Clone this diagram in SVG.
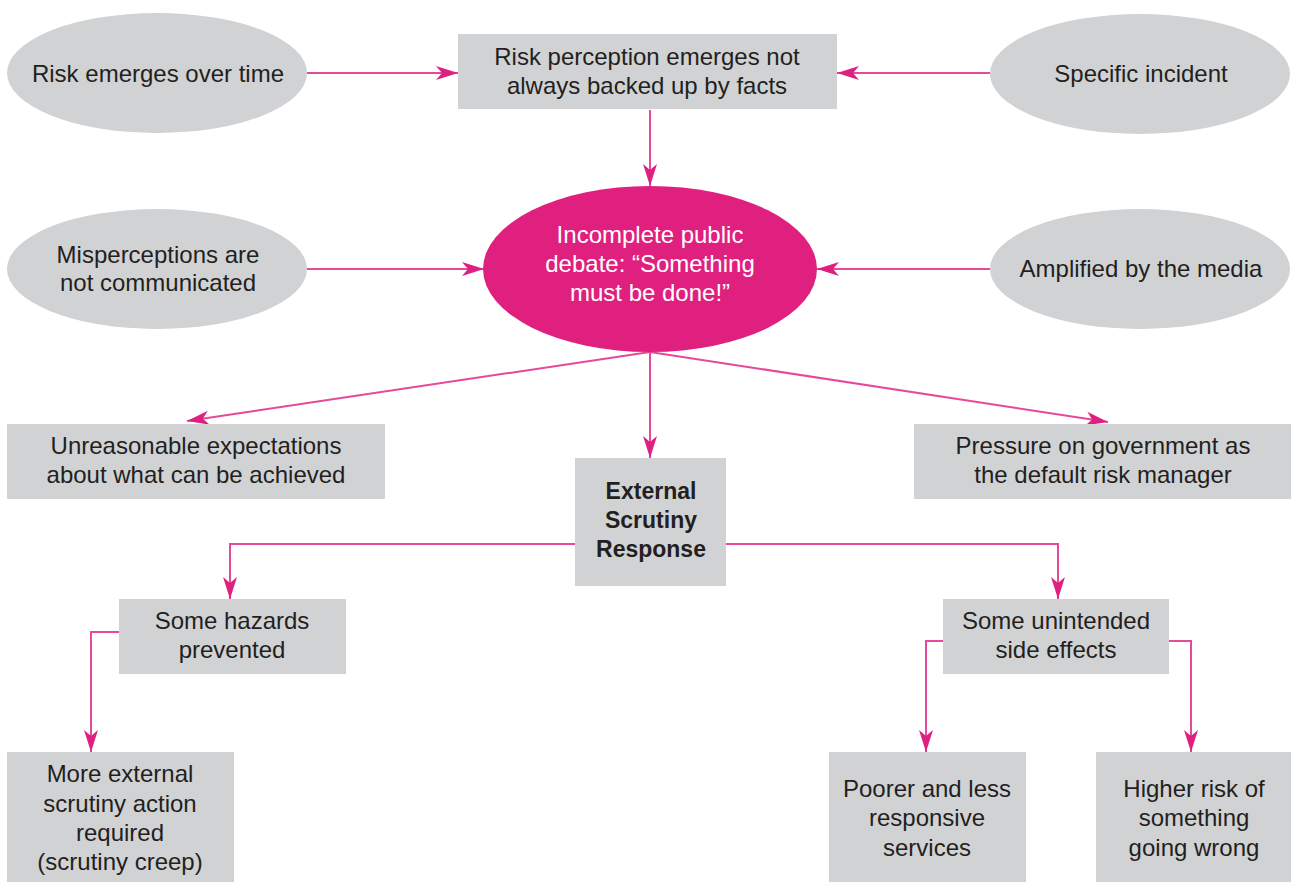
<svg xmlns="http://www.w3.org/2000/svg" width="1291" height="882" viewBox="0 0 1291 882">
<style>
.n{fill:#d1d2d4}
.hub{fill:#e0207f}
text{font-family:"Liberation Sans",Arial,sans-serif;font-size:24px;fill:#231f20;text-anchor:middle}
.w{fill:#ffffff}
.b{font-weight:bold;font-size:23px}
.c{fill:none;stroke:#e8489a;stroke-width:2}
</style>
<defs>
<marker id="ah" markerWidth="22" markerHeight="14" refX="22" refY="7" orient="auto" markerUnits="userSpaceOnUse">
<path d="M0,0 L22,7 L0,14 L6,7 Z" fill="#e0207f"/>
</marker>
</defs>
<rect width="1291" height="882" fill="#ffffff"/>
<g id="connectors">
<path class="c" d="M307,73 H458" marker-end="url(#ah)"/>
<path class="c" d="M990,73 H837" marker-end="url(#ah)"/>
<path class="c" d="M650,110 V186" marker-end="url(#ah)"/>
<path class="c" d="M307,269 H484" marker-end="url(#ah)"/>
<path class="c" d="M990,269 H817" marker-end="url(#ah)"/>
<path class="c" d="M650,352 L187,421" marker-end="url(#ah)"/>
<path class="c" d="M650,352 L1108,422" marker-end="url(#ah)"/>
<path class="c" d="M650,352 V458" marker-end="url(#ah)"/>
<path class="c" d="M575,544 H230 V599" marker-end="url(#ah)"/>
<path class="c" d="M726,544 H1058 V599" marker-end="url(#ah)"/>
<path class="c" d="M119,632 H91 V752" marker-end="url(#ah)"/>
<path class="c" d="M943,641 H926 V752" marker-end="url(#ah)"/>
<path class="c" d="M1169,641 H1191 V752" marker-end="url(#ah)"/>
</g>
<g id="risk-emerges">
<ellipse class="n" cx="157" cy="73" rx="150" ry="60"/>
<text x="158" y="82">Risk emerges over time</text>
</g>
<g id="risk-perception">
<rect class="n" x="458" y="34" width="379" height="75"/>
<text x="647" y="65">Risk perception emerges not</text>
<text x="647" y="94">always backed up by facts</text>
</g>
<g id="specific-incident">
<ellipse class="n" cx="1140" cy="74" rx="150" ry="60"/>
<text x="1141" y="82">Specific incident</text>
</g>
<g id="misperceptions">
<ellipse class="n" cx="157" cy="269" rx="150" ry="60"/>
<text x="158" y="263">Misperceptions are</text>
<text x="158" y="291">not communicated</text>
</g>
<g id="public-debate">
<ellipse class="hub" cx="650" cy="269" rx="167" ry="83"/>
<text class="w" x="650" y="243">Incomplete public</text>
<text class="w" x="650" y="272">debate: “Something</text>
<text class="w" x="650" y="301">must be done!”</text>
</g>
<g id="amplified">
<ellipse class="n" cx="1140" cy="269" rx="150" ry="60"/>
<text x="1141" y="277">Amplified by the media</text>
</g>
<g id="unreasonable">
<rect class="n" x="7" y="424" width="378" height="75"/>
<text x="196" y="454">Unreasonable expectations</text>
<text x="196" y="483">about what can be achieved</text>
</g>
<g id="pressure">
<rect class="n" x="914" y="424" width="377" height="75"/>
<text x="1103" y="454">Pressure on government as</text>
<text x="1103" y="483">the default risk manager</text>
</g>
<g id="external-scrutiny">
<rect class="n" x="575" y="458" width="151" height="128"/>
<text class="b" x="651" y="499">External</text>
<text class="b" x="651" y="528">Scrutiny</text>
<text class="b" x="651" y="557">Response</text>
</g>
<g id="hazards">
<rect class="n" x="119" y="599" width="227" height="75"/>
<text x="232" y="629">Some hazards</text>
<text x="232" y="658">prevented</text>
</g>
<g id="side-effects">
<rect class="n" x="943" y="599" width="226" height="75"/>
<text x="1056" y="629">Some unintended</text>
<text x="1056" y="658">side effects</text>
</g>
<g id="more-scrutiny">
<rect class="n" x="7" y="752" width="227" height="130"/>
<text x="120" y="782">More external</text>
<text x="120" y="812">scrutiny action</text>
<text x="120" y="841">required</text>
<text x="120" y="870">(scrutiny creep)</text>
</g>
<g id="poorer">
<rect class="n" x="829" y="752" width="197" height="130"/>
<text x="927" y="797">Poorer and less</text>
<text x="927" y="826">responsive</text>
<text x="927" y="856">services</text>
</g>
<g id="higher-risk">
<rect class="n" x="1096" y="752" width="195" height="130"/>
<text x="1194" y="797">Higher risk of</text>
<text x="1194" y="826">something</text>
<text x="1194" y="856">going wrong</text>
</g>
</svg>
